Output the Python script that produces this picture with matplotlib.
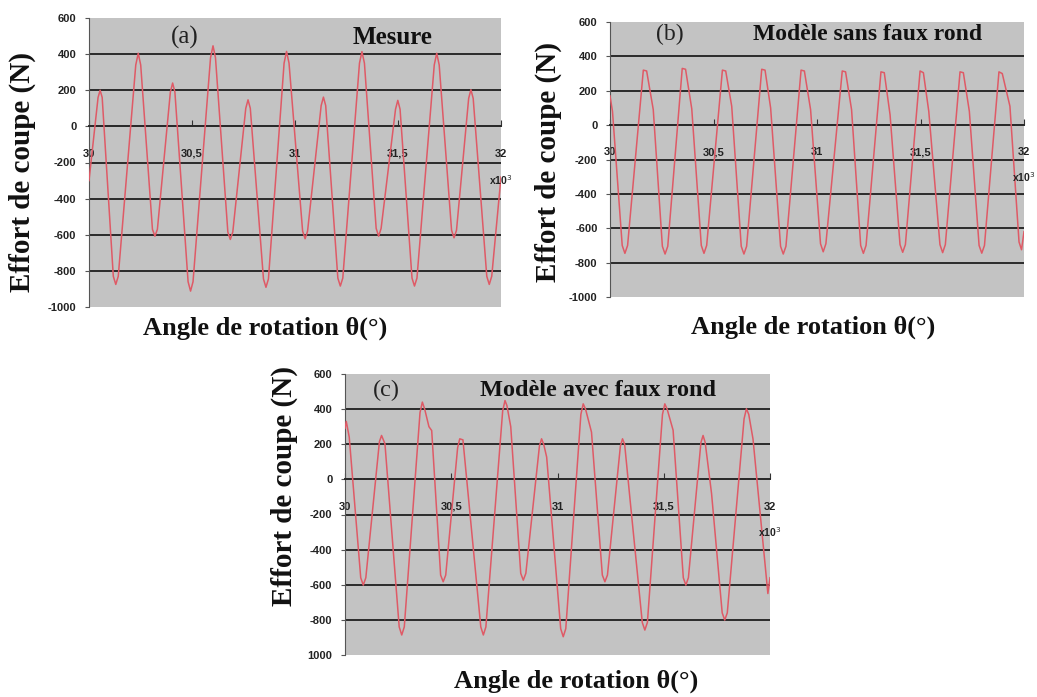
import matplotlib.pyplot as plt

# Effort de coupe (N) en fonction de l'angle de rotation (x10^3 degrés)
# (a) mesure
xa = [30.000,
      30.044, 30.054, 30.064, 30.118, 30.130, 30.142,
      30.227, 30.239, 30.251, 30.308, 30.320, 30.332,
      30.395, 30.406, 30.417, 30.481, 30.493, 30.505,
      30.590, 30.602, 30.614, 30.674, 30.686, 30.698,
      30.761, 30.772, 30.783, 30.847, 30.859, 30.871,
      30.947, 30.959, 30.971, 31.037, 31.049, 31.061,
      31.127, 31.138, 31.149, 31.208, 31.220, 31.232,
      31.313, 31.325, 31.337, 31.394, 31.406, 31.418,
      31.488, 31.499, 31.510, 31.568, 31.580, 31.592,
      31.676, 31.688, 31.700, 31.760, 31.772, 31.784,
      31.843, 31.854, 31.865, 31.931, 31.943, 31.955,
      32.000]
ya = [-300,
      160, 200, 160, -830, -875, -830,
      340, 405, 340, -570, -608, -570,
      190, 240, 190, -860, -912, -860,
      380, 446, 380, -585, -626, -585,
      100, 147, 100, -845, -891, -845,
      350, 415, 350, -580, -622, -580,
      115, 162, 115, -840, -884, -840,
      350, 414, 350, -565, -608, -565,
      95, 144, 95, -840, -884, -840,
      340, 405, 340, -575, -617, -575,
      155, 203, 155, -830, -875, -830,
      -280]

# (b) modèle sans faux rond
xb = [30.000, 30.012, 30.059, 30.072, 30.085,
      30.161, 30.177, 30.209, 30.253, 30.266, 30.279,
      30.349, 30.365, 30.395, 30.441, 30.454, 30.467,
      30.543, 30.559, 30.588, 30.634, 30.647, 30.660,
      30.733, 30.749, 30.776, 30.824, 30.837, 30.850,
      30.923, 30.939, 30.969, 31.017, 31.030, 31.043,
      31.122, 31.138, 31.167, 31.211, 31.224, 31.237,
      31.309, 31.325, 31.353, 31.401, 31.414, 31.427,
      31.498, 31.514, 31.540, 31.594, 31.607, 31.620,
      31.691, 31.707, 31.736, 31.783, 31.796, 31.809,
      31.879, 31.895, 31.932, 31.976, 31.988, 32.000]
yb = [170, 80, -700, -746, -700,
      320, 315, 90, -705, -750, -705,
      330, 325, 95, -700, -746, -700,
      320, 315, 110, -705, -750, -705,
      325, 320, 100, -705, -750, -705,
      320, 315, 90, -690, -737, -690,
      315, 310, 90, -700, -746, -700,
      310, 305, 60, -695, -740, -695,
      315, 305, 80, -695, -742, -695,
      310, 305, 80, -700, -745, -700,
      310, 300, 110, -680, -725, -620]

# (c) modèle avec faux rond
xc = [30.000, 30.006, 30.020,
      30.074, 30.086, 30.098, 30.162, 30.172, 30.188,
      30.255, 30.267, 30.279, 30.353, 30.364, 30.375, 30.395, 30.408,
      30.450, 30.462, 30.474, 30.530, 30.540, 30.555,
      30.639, 30.651, 30.663, 30.742, 30.753, 30.762, 30.780,
      30.827, 30.839, 30.851, 30.915, 30.925, 30.935, 30.949,
      31.015, 31.027, 31.039, 31.110, 31.121, 31.132, 31.160,
      31.211, 31.223, 31.235, 31.296, 31.306, 31.316, 31.341,
      31.399, 31.411, 31.423, 31.494, 31.505, 31.516, 31.544,
      31.592, 31.604, 31.616, 31.675, 31.685, 31.695, 31.725,
      31.775, 31.787, 31.799, 31.878, 31.889, 31.900, 31.920,
      31.990, 32.000]
yc = [290, 330, 240,
      -560, -602, -560, 215, 250, 203,
      -840, -886, -840, 380, 440, 400, 300, 278,
      -545, -583, -545, 180, 231, 225,
      -840, -886, -840, 390, 449, 420, 300,
      -535, -574, -535, 190, 231, 200, 127,
      -850, -896, -850, 370, 430, 400, 269,
      -545, -583, -545, 190, 231, 200, -110,
      -815, -858, -815, 370, 430, 400, 280,
      -560, -602, -560, 210, 250, 210, -81,
      -760, -801, -760, 345, 402, 370, 230,
      -650, -560]

x_ticks = [30, 30.5, 31, 31.5, 32]
x_labels = ['30', '30,5', '31', '31,5', '32']
y_ticks = [-1000, -800, -600, -400, -200, 0, 200, 400, 600]
y_labels = ['-1000', '-800', '-600', '-400', '-200', '0', '200', '400', '600']
y_labels_c = ['1000', '-800', '-600', '-400', '-200', '0', '200', '400', '600']
grille = [-800, -600, -400, -200, 0, 200, 400]

W, H = 1037, 697
fig = plt.figure(figsize=(W / 100, H / 100), dpi=100)

SERIF = 'Liberation Serif'
SANS = 'Liberation Sans'


def axes_px(left, top, right, bottom):
    return fig.add_axes([left / W, 1 - bottom / H, (right - left) / W, (bottom - top) / H])


def panneau(ax, x, y, ylabels, lettre, titre, pos_lettre, pos_titre, fs_titre):
    ax.set_facecolor('#c3c3c3')
    ax.set_xlim(30, 32)
    ax.set_ylim(-1000, 600)
    for g in grille:
        ax.axhline(g, color='#2a2a2a', lw=1.4, zorder=1)
    ax.plot(x, y, color='#df5a66', lw=1.1, zorder=3)

    for s in ['top', 'right']:
        ax.spines[s].set_visible(False)
    ax.spines['left'].set_color('#555555')
    ax.spines['left'].set_linewidth(0.8)
    ax.spines['bottom'].set_position(('data', 0))
    ax.spines['bottom'].set_color('#2a2a2a')
    ax.spines['bottom'].set_linewidth(1.4)

    ax.set_yticks(y_ticks)
    ax.set_yticklabels(ylabels, fontfamily=SANS, fontweight='bold', fontsize=8, color='#222222')
    ax.tick_params(axis='y', direction='out', length=3, pad=6, color='#555555')
    ax.set_xticks(x_ticks)
    ax.set_xticklabels(x_labels, fontfamily=SANS, fontweight='bold', fontsize=8, color='#222222')
    ax.tick_params(axis='x', direction='in', length=4, pad=16, color='#333333')

    ax.text(pos_lettre[0], pos_lettre[1], lettre, family=SERIF, fontsize=fs_titre,
            ha='center', va='center', color='#222222')
    ax.text(pos_titre[0], pos_titre[1], titre, family=SERIF, fontsize=fs_titre,
            fontweight='bold', ha='center', va='center', color='#111111')
    ax.text(32.0, -300, 'x10$^3$', family=SANS, fontweight='bold', fontsize=7.5,
            ha='center', va='center', color='#222222', clip_on=False)


ax_a = axes_px(89, 18, 501, 307)
panneau(ax_a, xa, ya, y_labels, '(a)', 'Mesure', (30.466, 490), (31.476, 490), 18)

ax_b = axes_px(610, 22, 1024, 297)
panneau(ax_b, xb, yb, y_labels, '(b)', 'Modèle sans faux rond', (30.29, 526), (31.246, 526), 17)

ax_c = axes_px(345, 374, 770, 655)
panneau(ax_c, xc, yc, y_labels_c, '(c)', 'Modèle avec faux rond', (30.196, 506), (31.19, 506), 17.5)

# titres des axes
for xl, yl, xx, yx in [(265, 328, 22, 172), (813, 327, 548, 162), (576, 681, 284, 486)]:
    fig.text(xl / W, 1 - yl / H, 'Angle de rotation θ(°)', family=SERIF, fontweight='bold',
             fontsize=19, ha='center', va='center', color='#111111')
    fig.text(xx / W, 1 - yx / H, 'Effort de coupe (N)', family=SERIF, fontweight='bold',
             fontsize=21, ha='center', va='center', rotation=90, color='#111111')

fig.savefig('out.png', dpi=100, facecolor='white')
